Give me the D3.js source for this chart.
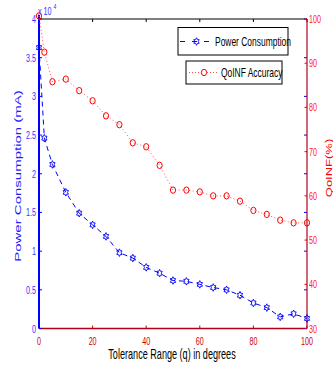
<!DOCTYPE html>
<html>
<head>
<meta charset="utf-8">
<script src="https://cdn.jsdelivr.net/npm/d3@7"></script>
<style>
  body { margin: 0; background: #fff; }
  text { font-family: "Liberation Sans", Arial, sans-serif; }
</style>
</head>
<body>
<div id="chart"></div>
<script>
// tolerance range (degrees)
const tolerance = [0, 2, 5, 10, 15, 20, 25, 30, 35, 40, 45, 50, 55, 60, 65, 70, 75, 80, 85, 90, 95, 100];
// power consumption, x 10^4 mA
const power = [3.63, 2.46, 2.12, 1.76, 1.49, 1.34, 1.19, 0.98, 0.91, 0.79, 0.715, 0.62, 0.61, 0.57, 0.53, 0.50, 0.43, 0.33, 0.27, 0.15, 0.19, 0.13];
// QoINF accuracy (%)
const accuracy = [100.7, 92.5, 85.8, 86.4, 83.8, 81.5, 78.1, 76.1, 72.0, 71.1, 66.9, 61.3, 61.3, 60.9, 60.0, 60.0, 58.8, 56.7, 55.8, 54.5, 53.9, 53.9];

const xTicks = [0, 20, 40, 60, 80, 100];
const leftTicks = [0, 0.5, 1, 1.5, 2, 2.5, 3, 3.5, 4];
const rightTicks = [30, 40, 50, 60, 70, 80, 90, 100];

const W = 333, H = 372;
const pLeft = 39, pRight = 307, pTop = 19, pBottom = 328.5;
const SQ = 0.65; // the picture is squeezed horizontally

const svg = d3.select("#chart").append("svg")
  .attr("width", W).attr("height", H);

const x = d3.scaleLinear().domain([0, 100]).range([pLeft, pRight]);
const yL = d3.scaleLinear().domain([0, 4]).range([pBottom, pTop]);
const yR = d3.scaleLinear().domain([30, 100]).range([pBottom, pTop]);

function label(g, px, py, s, size, color, anchor, rot) {
  return g.append("text")
    .attr("transform", rot
      ? `translate(${px},${py}) rotate(-90) scale(1,${SQ})`
      : `translate(${px},${py}) scale(${SQ},1)`)
    .attr("font-size", size)
    .attr("fill", color)
    .attr("text-anchor", anchor || "start")
    .text(s);
}

// frame: top black, bottom dark red
svg.append("line").attr("x1", pLeft).attr("x2", pRight).attr("y1", pTop).attr("y2", pTop)
  .attr("stroke", "#000").attr("stroke-width", 1);
svg.append("line").attr("x1", pLeft).attr("x2", pRight).attr("y1", pBottom).attr("y2", pBottom)
  .attr("stroke", "#b3001a").attr("stroke-width", 1.6);

// x ticks (top black, bottom red)
xTicks.forEach(v => {
  svg.append("line").attr("x1", x(v)).attr("x2", x(v)).attr("y1", pTop).attr("y2", pTop + 3)
    .attr("stroke", "#000");
  svg.append("line").attr("x1", x(v)).attr("x2", x(v)).attr("y1", pBottom).attr("y2", pBottom - 3)
    .attr("stroke", "#cc0000");
  label(svg, x(v), 345, v, 11, "#cc0000", "middle");
});

// left axis ticks (also mirrored on the right side)
leftTicks.forEach(v => {
  svg.append("line").attr("x1", pLeft).attr("x2", pLeft + 3).attr("y1", yL(v)).attr("y2", yL(v))
    .attr("stroke", "#0000ff");
  svg.append("line").attr("x1", pRight - 3).attr("x2", pRight).attr("y1", yL(v)).attr("y2", yL(v))
    .attr("stroke", "#0000ff");
  label(svg, 36, yL(v) + 4, v, 11, "#3333ff", "end");
});

// right axis ticks
rightTicks.forEach(v => {
  svg.append("line").attr("x1", pRight - 2.5).attr("x2", pRight).attr("y1", yR(v)).attr("y2", yR(v))
    .attr("stroke", "#ff0000");
  label(svg, 309, yR(v) + 4, v, 11, "#ff2020", "start");
});

// axis lines
svg.append("line").attr("x1", pRight).attr("x2", pRight).attr("y1", pTop).attr("y2", pBottom)
  .attr("stroke", "#b3001a").attr("stroke-width", 1.2);
svg.append("line").attr("x1", pLeft).attr("x2", pLeft).attr("y1", pTop - 4).attr("y2", pBottom)
  .attr("stroke", "#0000ff").attr("stroke-width", 2);

// exponent label
label(svg, 38, 15, "x 10", 11, "#3333ff", "start");
label(svg, 53.5, 9, "4", 8, "#3333ff", "start");

// axis titles
label(svg, 172, 359, "Tolerance Range (q) in degrees", 14, "#000", "middle");
label(svg, 21, 176, "Power Consumption (mA)", 15, "#2020ff", "middle", true);
label(svg, 332, 168, "QoINF(%)", 13, "#ff0000", "middle", true);

// hexagram marker
function hexagram(R) {
  const r = R / Math.sqrt(3);
  const pts = d3.range(12).map(i => {
    const a = -Math.PI / 2 + i * Math.PI / 6;
    const rr = i % 2 === 0 ? R : r;
    return [rr * Math.cos(a), rr * Math.sin(a)];
  });
  return "M" + pts.map(p => p.join(",")).join("L") + "Z";
}
const hexPath = hexagram(3.8);

// power series
const powerLine = d3.line().x((d, i) => x(tolerance[i])).y(d => yL(d));
svg.append("path").datum(power)
  .attr("d", powerLine)
  .attr("fill", "none").attr("stroke", "#0000ff").attr("stroke-width", 1)
  .attr("stroke-dasharray", "5,4");
svg.append("g").selectAll("path").data(power).enter().append("path")
  .attr("d", hexPath)
  .attr("transform", (d, i) => `translate(${x(tolerance[i])},${yL(d)}) scale(0.8,1)`)
  .attr("fill", "none").attr("stroke", "#0000ff").attr("stroke-width", 1);

// accuracy series
const accLine = d3.line().x((d, i) => x(tolerance[i])).y(d => yR(d));
svg.append("path").datum(accuracy)
  .attr("d", accLine)
  .attr("fill", "none").attr("stroke", "#ff5050").attr("stroke-width", 1)
  .attr("stroke-dasharray", "1,2.5");
svg.append("g").selectAll("ellipse").data(accuracy).enter().append("ellipse")
  .attr("cx", (d, i) => x(tolerance[i]))
  .attr("cy", d => yR(d))
  .attr("rx", 2.6).attr("ry", 3.2)
  .attr("fill", "none").attr("stroke", "#ff0000").attr("stroke-width", 1);

// legends
const lg1 = svg.append("g");
lg1.append("rect").attr("x", 178).attr("y", 27.5).attr("width", 110).attr("height", 27.5)
  .attr("fill", "#fff").attr("stroke", "#000").attr("stroke-width", 1);
lg1.append("line").attr("x1", 180).attr("x2", 209).attr("y1", 41.5).attr("y2", 41.5)
  .attr("stroke", "#0000ff").attr("stroke-dasharray", "5,7");
lg1.append("path").attr("d", hexPath)
  .attr("transform", "translate(196.5,41.5) scale(0.8,1)")
  .attr("fill", "none").attr("stroke", "#0000ff");
label(lg1, 215, 46, "Power Consumption", 13, "#000", "start");

const lg2 = svg.append("g");
lg2.append("rect").attr("x", 186).attr("y", 61).attr("width", 96).attr("height", 23)
  .attr("fill", "#fff").attr("stroke", "#000").attr("stroke-width", 1);
lg2.append("line").attr("x1", 189).attr("x2", 218).attr("y1", 72.5).attr("y2", 72.5)
  .attr("stroke", "#ff5050").attr("stroke-dasharray", "1,2");
lg2.append("ellipse").attr("cx", 204).attr("cy", 72.5).attr("rx", 2.6).attr("ry", 3.2)
  .attr("fill", "#fff").attr("stroke", "#ff0000");
label(lg2, 221, 77, "QoINF Accuracy", 13, "#000", "start");
</script>
</body>
</html>
